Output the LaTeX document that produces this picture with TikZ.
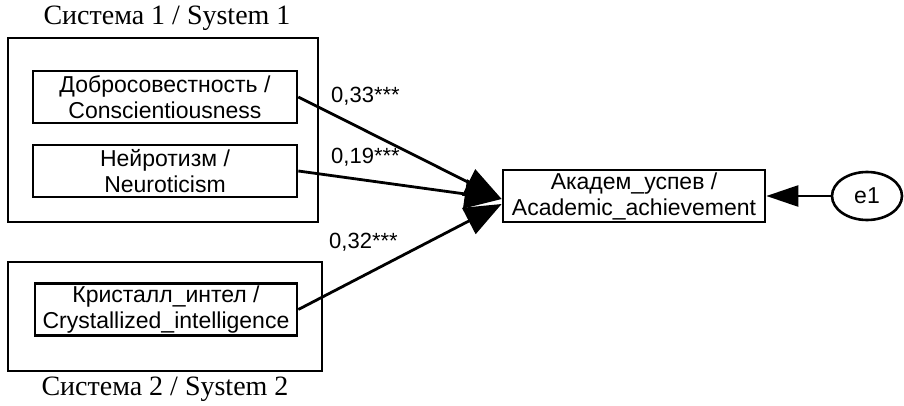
\documentclass[tikz,border=0pt]{standalone}
\usepackage{fontspec}
\setmainfont{Liberation Serif}
\newfontfamily\arialf{Liberation Sans}
\usetikzlibrary{arrows.meta,shapes.geometric}
\begin{document}
\begin{tikzpicture}[x=1pt,y=-1pt,
  var/.style={draw,line width=2.7pt,minimum height=52pt,inner sep=0pt,align=center,font=\arialf\fontsize{23}{26}\selectfont},
  grp/.style={draw,line width=1.3pt,inner sep=0pt},
  ttl/.style={font=\fontsize{28}{30}\selectfont,inner sep=0pt},
  coef/.style={font=\arialf\fontsize{22}{24}\selectfont,inner sep=0pt,anchor=west},
  regpath/.style={line width=2.8pt,-{Triangle[length=37pt,width=29pt]}},
  errpath/.style={line width=2.6pt,-{Triangle[length=32pt,width=21pt]}},
]
\useasboundingbox (0,0) rectangle (904,406);
\node[grp, minimum width=310pt, minimum height=184pt] (s1) at (163,130) {};
\node[grp, minimum width=314pt, minimum height=109pt] (s2) at (165,316.5) {};
\node[ttl] (t1) at (167,18) {Система 1 / System 1};
\node[ttl] (t2) at (165,389) {Система 2 / System 2};
\node[var, minimum width=264pt] (b1) at (165,97) {Добросовестность /\\Conscientiousness};
\node[var, minimum width=264pt] (b2) at (165,171) {Нейротизм /\\Neuroticism};
\node[var, minimum width=262pt] (b3) at (166,309.5) {Кристалл\_интел /\\Crystallized\_intelligence};
\node[var, minimum width=262pt] (ac) at (634,196) {Академ\_успев /\\Academic\_achievement};
\node[ellipse, draw, line width=2.6pt, minimum width=70pt, minimum height=48pt, inner sep=0pt, font=\arialf\fontsize{23}{26}\selectfont] (e1) at (867,196) {e1};
\node[coef] (c1) at (331,96) {0,33***};
\node[coef] (c2) at (331,157) {0,19***};
\node[coef] (c3) at (329,242) {0,32***};
\draw[regpath] (b1.east) -- ([yshift=-3pt]ac.west);
\draw[regpath] (b2.east) -- ([yshift=-3pt]ac.west);
\draw[regpath] (b3.east) -- ([yshift=-8pt]ac.west);
\draw[errpath] (e1.west) -- (ac.east);
\end{tikzpicture}
\end{document}
